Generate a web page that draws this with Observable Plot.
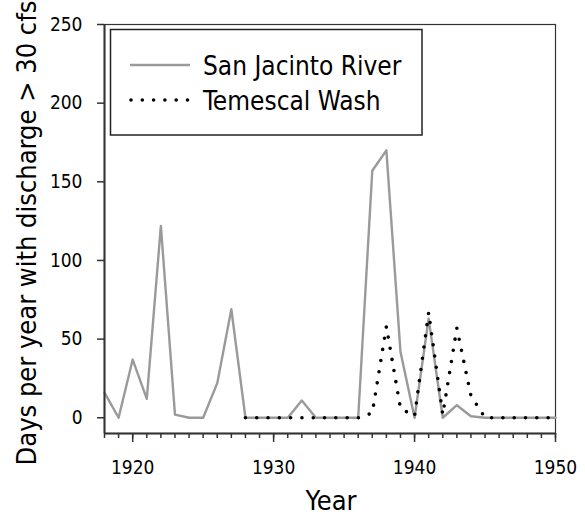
<!DOCTYPE html>
<html>
<head>
<meta charset="utf-8">
<script src="https://cdn.jsdelivr.net/npm/d3@7"></script>
<script src="https://cdn.jsdelivr.net/npm/@observablehq/plot@0.6"></script>
<style>
  html, body { margin: 0; padding: 0; background: #fff; }
  #chart { width: 585px; height: 516px; }
</style>
</head>
<body>
<div id="chart"></div>
<script>
// ---- data ----
const sjYears = [1918,1919,1920,1921,1922,1923,1924,1925,1926,1927,1928,1929,1930,1931,1932,1933,1934,1935,1936,1937,1938,1939,1940,1941,1942,1943,1944,1945,1946,1947,1948,1949,1950];
const sjDays  = [16,0,37,12,122,2,0,0,22,69,0,0,0,0,11,0,0,0,0,157,170,42,0,63,0,8,1,0,0,0,0,0,0];
const twYears = [1928,1929,1930,1931,1932,1933,1934,1935,1936,1937,1938,1939,1940,1941,1942,1943,1944,1945,1946,1947,1948,1949,1950];
const twDays  = [0,0,0,0,0,0,0,0,0,3,58,6,1,67,2,57,14,0,0,0,0,0,0];
const yTicks = [0,50,100,150,200,250];
const xMajor = [1920,1930,1940,1950];
const xMinor = d3.range(1918, 1951);
const seriesNames = ["San Jacinto River", "Temescal Wash"];
const xTitle = "Year";
const yTitle = "Days per year with discharge > 30 cfs";

const sj = sjYears.map((y,i) => ({year: y, days: sjDays[i]}));
const tw = twYears.map((y,i) => ({year: y, days: twDays[i]}));

const FONT = '"DejaVu Sans Condensed", "Liberation Sans", sans-serif';
const AX = "#333";

const chart = Plot.plot({
  width: 585,
  height: 516,
  marginLeft: 104,
  marginRight: 30,
  marginTop: 24,
  marginBottom: 83,
  style: {fontFamily: FONT, fontSize: "19px", color: "#000", background: "#fff", overflow: "visible"},
  x: {domain: [1918, 1950]},
  y: {domain: [-10, 250]},
  marks: [
    Plot.frame({stroke: AX, strokeWidth: 1.2}),
    Plot.line(sj, {x: "year", y: "days", stroke: "#9a9a9a", strokeWidth: 2.4}),
    Plot.line(tw, {x: "year", y: "days", stroke: "#000", strokeWidth: 3.6,
                   strokeDasharray: "0 11.3", strokeLinecap: "round"}),
    Plot.axisY({ticks: yTicks, tickSize: 7, tickPadding: 15, label: null, stroke: AX, strokeWidth: 1.5, fill: "#000"}),
    Plot.axisX({ticks: xMinor, tickSize: 5, tickFormat: () => "", label: null, stroke: AX, strokeWidth: 1.5}),
    Plot.axisX({ticks: xMajor, tickSize: 9, tickPadding: 18, tickFormat: d => String(d), label: null, stroke: AX, strokeWidth: 1.5, fill: "#000"}),
    Plot.ruleX([1918], {stroke: AX, strokeWidth: 2}),
    Plot.ruleY([-10], {stroke: AX, strokeWidth: 2})
  ]
});

document.getElementById("chart").appendChild(chart);

const svg = d3.select(chart);
svg.selectAll("text")
  .style("font-size", "19px")
  .style("font-family", FONT)
  .attr("fill", "#000");

// axis titles and legend
svg.append("text")
  .attr("x", 331).attr("y", 510)
  .attr("text-anchor", "middle")
  .style("font-family", FONT).style("font-size", "27px").attr("fill", "#000")
  .text(xTitle);
svg.append("text")
  .attr("transform", "translate(36,233) rotate(-90)")
  .attr("text-anchor", "middle")
  .style("font-family", FONT).style("font-size", "27px").attr("fill", "#000")
  .text(yTitle);

const lg = svg.append("g");
lg.append("rect").attr("x", 110.5).attr("y", 29.5).attr("width", 311.5).attr("height", 105.5)
  .attr("fill", "#fff").attr("stroke", "#222").attr("stroke-width", 1.5);
lg.append("line").attr("x1", 130).attr("x2", 190).attr("y1", 65).attr("y2", 65)
  .attr("stroke", "#9a9a9a").attr("stroke-width", 2.4);
lg.append("line").attr("x1", 131).attr("x2", 190).attr("y1", 100).attr("y2", 100)
  .attr("stroke", "#000").attr("stroke-width", 3.6)
  .attr("stroke-dasharray", "0 11.3").attr("stroke-linecap", "round");
lg.append("text").attr("x", 203).attr("y", 75).attr("text-anchor", "start")
  .style("font-family", FONT).style("font-size", "26px").attr("fill", "#000")
  .text(seriesNames[0]);
lg.append("text").attr("x", 203).attr("y", 110).attr("text-anchor", "start")
  .style("font-family", FONT).style("font-size", "26px").attr("fill", "#000")
  .text(seriesNames[1]);
</script>
</body>
</html>
